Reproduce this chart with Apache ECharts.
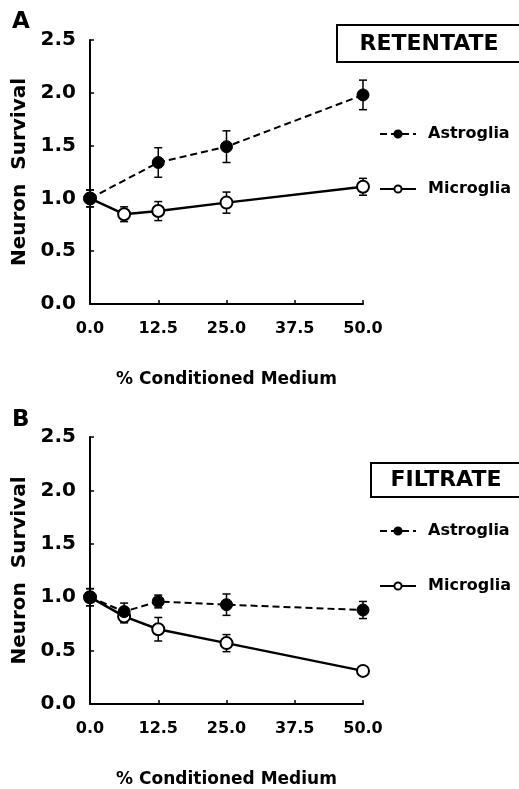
<!DOCTYPE html>
<html>
<head>
<meta charset="utf-8">
<script src="https://cdn.jsdelivr.net/npm/echarts@6/dist/echarts.min.js"></script>
<style>
  html, body { margin: 0; padding: 0; background: #fff; }
  #chart { width: 519px; height: 789px; }
</style>
</head>
<body>
<div id="chart"></div>
<script>
// Conditioned medium dose (% of medium)
const dosesAll = [0, 6.25, 12.5, 25, 50];
const dosesAstroRetentate = [0, 12.5, 25, 50];

// Panel A: retentate
const retAstroMean = [1.00, 1.34, 1.49, 1.98];
const retAstroErr  = [0.08, 0.14, 0.15, 0.14];
const retMicroMean = [1.00, 0.85, 0.88, 0.96, 1.11];
const retMicroErr  = [0.08, 0.07, 0.09, 0.10, 0.08];

// Panel B: filtrate
const filAstroMean = [1.00, 0.865, 0.96, 0.93, 0.88];
const filAstroErr  = [0.08, 0.08, 0.06, 0.10, 0.08];
const filMicroMean = [1.00, 0.82, 0.70, 0.57, 0.31];
const filMicroErr  = [0.08, 0.06, 0.11, 0.08, 0.03];

const xTicks = [0, 12.5, 25, 37.5, 50];
const yTicks = [0, 0.5, 1.0, 1.5, 2.0, 2.5];
const seriesNames = ['Astroglia', 'Microglia'];
const panelTitles = ['RETENTATE', 'FILTRATE'];

const FONT = 'DejaVu Sans';
const INK = '#000';

function pairs(xs, ys) { return xs.map((x, i) => [x, ys[i]]); }

function errorBars(xs, ys, errs, idx) {
  return {
    type: 'custom',
    xAxisIndex: idx, yAxisIndex: idx,
    z: 1, silent: true,
    encode: { x: 0, y: [1, 2] },
    data: xs.map((x, i) => [x, ys[i] - errs[i], ys[i] + errs[i]]),
    renderItem: function (params, api) {
      const lo = api.coord([api.value(0), api.value(1)]);
      const hi = api.coord([api.value(0), api.value(2)]);
      const w = 4;
      const st = { stroke: INK, lineWidth: 1.5 };
      return {
        type: 'group',
        children: [
          { type: 'line', shape: { x1: lo[0], y1: lo[1], x2: hi[0], y2: hi[1] }, style: st },
          { type: 'line', shape: { x1: lo[0] - w, y1: lo[1], x2: lo[0] + w, y2: lo[1] }, style: st },
          { type: 'line', shape: { x1: hi[0] - w, y1: hi[1], x2: hi[0] + w, y2: hi[1] }, style: st }
        ]
      };
    }
  };
}

function astroLine(xs, ys, idx) {
  return {
    name: seriesNames[0], type: 'line', xAxisIndex: idx, yAxisIndex: idx, z: 3,
    data: pairs(xs, ys),
    symbol: 'circle', symbolSize: 12,
    itemStyle: { color: INK, borderColor: INK, borderWidth: 1 },
    lineStyle: { color: INK, width: 2, type: [7, 4] },
    animation: false
  };
}

function microLine(xs, ys, idx) {
  return {
    name: seriesNames[1], type: 'line', xAxisIndex: idx, yAxisIndex: idx, z: 2,
    data: pairs(xs, ys),
    symbol: 'emptyCircle', symbolSize: 12,
    itemStyle: { color: INK, borderColor: INK, borderWidth: 1.5 },
    lineStyle: { color: INK, width: 2.5, type: 'solid' },
    animation: false
  };
}

function xAxisCfg(idx) {
  return {
    type: 'value', gridIndex: idx, min: xTicks[0], max: xTicks[xTicks.length - 1], interval: 12.5,
    name: '% Conditioned Medium', nameLocation: 'middle', nameGap: 67,
    nameTextStyle: { fontFamily: FONT, fontWeight: 'bold', fontSize: 17, color: INK },
    axisLine: { show: true, lineStyle: { color: INK, width: 2 } },
    axisTick: { show: true, inside: true, length: 4, lineStyle: { color: INK, width: 1.5 } },
    axisLabel: { fontFamily: FONT, fontWeight: 'bold', fontSize: 16, color: INK, margin: 17,
      formatter: v => v.toFixed(1) },
    splitLine: { show: false }
  };
}

function yAxisCfg(idx) {
  return {
    type: 'value', gridIndex: idx, min: yTicks[0], max: yTicks[yTicks.length - 1], interval: 0.5,
    name: 'Neuron  Survival', nameLocation: 'middle', nameGap: 59, nameRotate: 90,
    nameTextStyle: { fontFamily: FONT, fontWeight: 'bold', fontSize: 20, color: INK },
    axisLine: { show: true, lineStyle: { color: INK, width: 2 } },
    axisTick: { show: true, inside: true, length: 4, lineStyle: { color: INK, width: 1.5 } },
    axisLabel: { fontFamily: FONT, fontWeight: 'bold', fontSize: 20, color: INK, margin: 14,
      padding: [7, 0, 0, 0], formatter: v => v.toFixed(1) },
    splitLine: { show: false }
  };
}

function legendCfg(top) {
  return {
    data: seriesNames, orient: 'vertical', left: 374, top: top,
    itemWidth: 36, itemHeight: 9, itemGap: 39, selectedMode: false,
    textStyle: { fontFamily: FONT, fontWeight: 'bold', fontSize: 16, color: INK, padding: [0, 0, 0, 7] }
  };
}

function panelBox(x, y, h, cx, cy, label) {
  return [
    { type: 'rect', shape: { x: x, y: y, width: 220, height: h },
      style: { fill: '#fff', stroke: INK, lineWidth: 2 }, z: 5 },
    { type: 'text', x: cx, y: cy, z: 6,
      style: { text: label, fontFamily: FONT, fontWeight: 'bold', fontSize: 22, fill: INK,
        textAlign: 'center', textVerticalAlign: 'middle' } }
  ];
}

const chart = echarts.init(document.getElementById('chart'), null, { renderer: 'canvas' });
chart.setOption({
  backgroundColor: '#fff',
  animation: false,
  grid: [
    { left: 90, right: 156, top: 40, bottom: 485 },
    { left: 90, right: 156, top: 437, bottom: 85 }
  ],
  xAxis: [xAxisCfg(0), xAxisCfg(1)],
  yAxis: [yAxisCfg(0), yAxisCfg(1)],
  legend: [legendCfg(121), legendCfg(518)],
  graphic: [
    { type: 'text', x: 12, y: 22, style: { text: 'A', fontFamily: FONT, fontWeight: 'bold', fontSize: 23,
      fill: INK, textVerticalAlign: 'middle' } },
    { type: 'text', x: 12, y: 420, style: { text: 'B', fontFamily: FONT, fontWeight: 'bold', fontSize: 23,
      fill: INK, textVerticalAlign: 'middle' } },
    ...panelBox(337, 25, 37, 429, 44, panelTitles[0]),
    ...panelBox(371, 463, 34, 446, 480, panelTitles[1])
  ],
  series: [
    errorBars(dosesAstroRetentate, retAstroMean, retAstroErr, 0),
    errorBars(dosesAll, retMicroMean, retMicroErr, 0),
    microLine(dosesAll, retMicroMean, 0),
    astroLine(dosesAstroRetentate, retAstroMean, 0),
    errorBars(dosesAll, filAstroMean, filAstroErr, 1),
    errorBars(dosesAll, filMicroMean, filMicroErr, 1),
    microLine(dosesAll, filMicroMean, 1),
    astroLine(dosesAll, filAstroMean, 1)
  ]
});
</script>
</body>
</html>
